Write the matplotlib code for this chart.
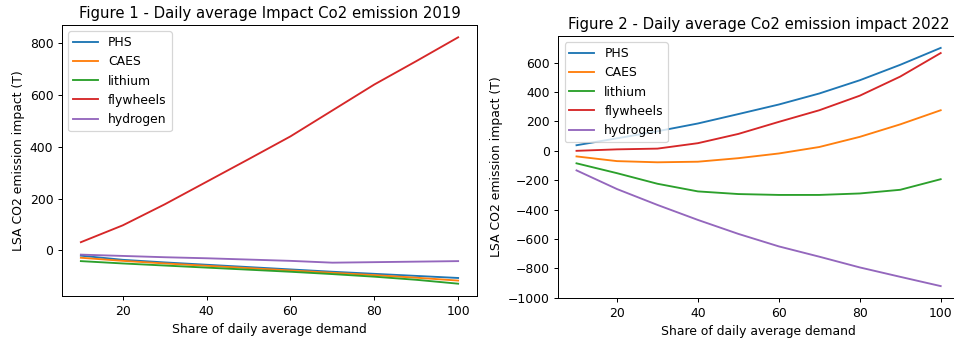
import matplotlib
matplotlib.use("Agg")
import matplotlib.pyplot as plt

share = [10, 20, 30, 40, 50, 60, 70, 80, 90, 100]
series_names = ["PHS", "CAES", "lithium", "flywheels", "hydrogen"]

# Figure 1 - 2019
phs_2019 = [-20, -36, -46, -55, -64, -73, -82, -90, -98, -106]
caes_2019 = [-28, -40, -50, -59, -68, -77, -86, -95, -105, -116]
lithium_2019 = [-41, -50, -58, -66, -74, -82, -91, -101, -113, -128]
flywheels_2019 = [32, 97, 178, 265, 352, 440, 540, 640, 730, 822]
hydrogen_2019 = [-16, -21, -26, -30, -35, -40, -47, -45, -43, -41]

# Figure 2 - 2022
phs_2022 = [38, 85, 133, 186, 250, 315, 390, 480, 585, 700]
caes_2022 = [-38, -70, -78, -74, -50, -18, 26, 95, 180, 276]
lithium_2022 = [-85, -152, -224, -276, -294, -300, -300, -290, -265, -193]
flywheels_2022 = [0, 10, 15, 52, 115, 197, 276, 375, 505, 665]
hydrogen_2022 = [-133, -260, -368, -470, -565, -650, -720, -793, -857, -920]

titles = ["Figure 1 - Daily average Impact Co2 emission 2019",
          "Figure 2 - Daily average Co2 emission impact 2022"]
xlabel = "Share of daily average demand"
ylabel = "LSA CO2 emission impact (T)"

W, H = 954, 339
DPI = 89.5
fig = plt.figure(figsize=(W / DPI, H / DPI), dpi=DPI)
plt.rcParams["font.size"] = 10

def box(l, t, r, b):
    return [l / W, 1 - b / H, (r - l) / W, (b - t) / H]

ax1 = fig.add_axes(box(62, 25, 477, 296))
ax2 = fig.add_axes(box(558.3, 36, 958.9, 298))

data = [
    [phs_2019, caes_2019, lithium_2019, flywheels_2019, hydrogen_2019],
    [phs_2022, caes_2022, lithium_2022, flywheels_2022, hydrogen_2022],
]

for ax, title, ser in zip([ax1, ax2], titles, data):
    for name, vals in zip(series_names, ser):
        ax.plot(share, vals, label=name, linewidth=1.5)
    ax.set_title(title, fontsize=12)
    ax.set_xlabel(xlabel)
    ax.set_ylabel(ylabel)
    ax.legend(loc="upper left")

fig.savefig("out.png", dpi=DPI)
